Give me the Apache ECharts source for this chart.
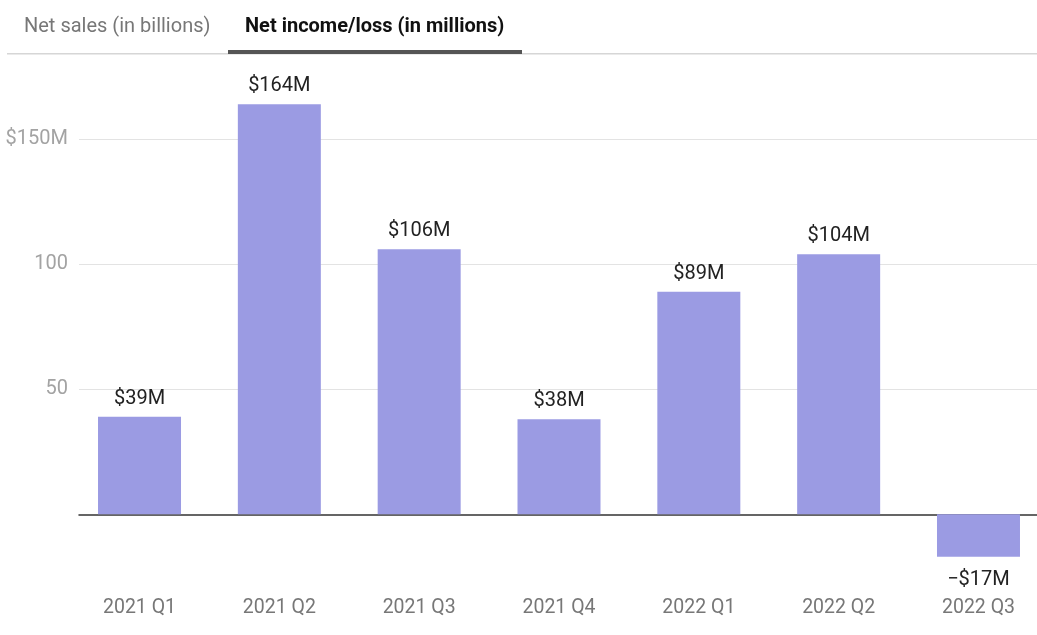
<!DOCTYPE html>
<html>
<head>
<meta charset="utf-8">
<script src="https://cdn.jsdelivr.net/npm/echarts@6/dist/echarts.min.js"></script>
<style>
  html, body { margin: 0; padding: 0; background: #fff; }
  #chart { width: 1037px; height: 635px; }
</style>
</head>
<body>
<div id="chart"></div>
<script>
// Quarterly net income / loss, in millions of dollars
const quarters = ['2021 Q1', '2021 Q2', '2021 Q3', '2021 Q4', '2022 Q1', '2022 Q2', '2022 Q3'];
const netIncome = [39, 164, 106, 38, 89, 104, -17];
const tabLabels = ['Net sales (in billions)', 'Net income/loss (in millions)'];
const yTickLabels = { 50: '50', 100: '100', 150: '$150M' };

const FONT = 'Roboto, "Noto Sans", sans-serif';
const BAR_COLOR = '#9b9be3';

const chart = echarts.init(document.getElementById('chart'), null, { renderer: 'canvas' });

const yMin = -25, yMax = 175, yStep = 25;

function moneyLabel(v) {
  return (v < 0 ? '\u2212$' : '$') + Math.abs(v) + 'M';
}

chart.setOption({
  animation: false,
  backgroundColor: '#fff',
  textStyle: { fontFamily: FONT },
  graphic: [
    // tab strip baseline
    { type: 'rect', shape: { x: 7, y: 53, width: 1030, height: 1.5 }, style: { fill: '#d6d6d6' } },
    { type: 'text', x: 24, y: 27, style: { text: tabLabels[0], font: '20px ' + FONT, fill: '#777', textVerticalAlign: 'middle' } },
    { type: 'text', x: 245, y: 27, style: { text: tabLabels[1], font: 'bold 20px ' + FONT, fill: '#111', textVerticalAlign: 'middle' } },
    // active tab underline
    { type: 'rect', shape: { x: 228, y: 50, width: 294, height: 4 }, style: { fill: '#555' } }
  ],
  grid: [
    // bars (the band layout runs slightly past the right edge)
    { left: 69.6, width: 978.8, top: 76.8, bottom: 58.2, outerBoundsMode: 'none', containLabel: false },
    // value gridlines, labels and zero line
    { left: 79, right: 0, top: 76.8, bottom: 58.2, outerBoundsMode: 'none', containLabel: false }
  ],
  xAxis: [
    {
      type: 'category', gridIndex: 0, data: quarters,
      axisLine: { show: false }, axisTick: { show: false },
      axisLabel: { color: '#777', fontSize: 19.5, margin: 21, fontFamily: FONT }
    },
    {
      type: 'category', gridIndex: 1, data: quarters,
      axisLine: { show: true, onZero: true, lineStyle: { color: '#333', width: 1.5 } },
      axisTick: { show: false }, axisLabel: { show: false }
    }
  ],
  yAxis: [
    {
      type: 'value', gridIndex: 0, min: yMin, max: yMax, interval: yStep,
      axisLine: { show: false }, axisTick: { show: false }, axisLabel: { show: false },
      splitLine: { show: false }
    },
    {
      type: 'value', gridIndex: 1, min: yMin, max: yMax, interval: yStep,
      axisLine: { show: false }, axisTick: { show: false },
      axisLabel: {
        color: '#a3a3a3', fontSize: 20, margin: 11, fontFamily: FONT,
        formatter: v => yTickLabels[v] || ''
      },
      splitLine: {
        show: true,
        lineStyle: {
          width: 1,
          // lines only at 50, 100 and 150
          color: ['transparent', 'transparent', 'transparent', '#e3e3e3', 'transparent', '#e3e3e3', 'transparent', '#e3e3e3', 'transparent']
        }
      }
    }
  ],
  series: [
    {
      type: 'bar',
      xAxisIndex: 0, yAxisIndex: 0,
      barWidth: 83,
      data: netIncome.map(v => ({
        value: v,
        label: v < 0 ? { position: 'bottom', distance: 13 } : { position: 'top', distance: 8 }
      })),
      itemStyle: { color: BAR_COLOR },
      label: {
        show: true,
        color: '#222',
        fontSize: 20,
        fontFamily: FONT,
        formatter: p => moneyLabel(p.value)
      }
    }
  ]
});
</script>
</body>
</html>
